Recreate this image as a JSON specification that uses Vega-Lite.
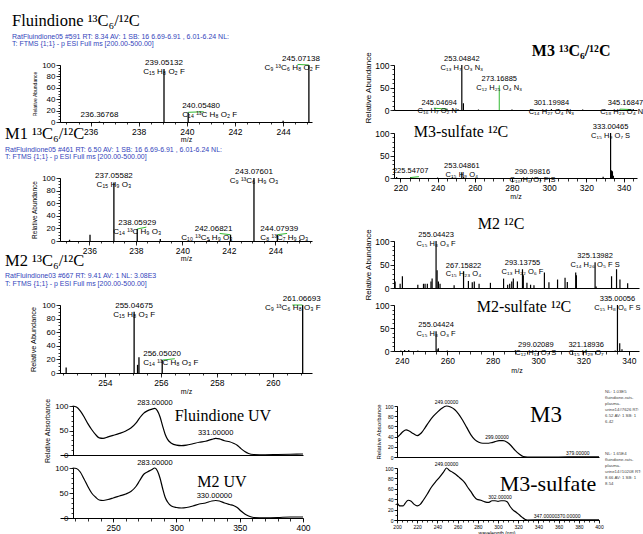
{
  "$schema": "https://vega.github.io/schema/vega-lite/v6.json",
  "padding": {"left": 5, "top": 13, "right": 0, "bottom": 0},
  "datasets": {
    "pA": [{"mz": 236.37, "pct": 1}, {"mz": 239.051, "pct": 93}, {"mz": 240.055, "pct": 17}, {"mz": 244.0, "pct": 2}, {"mz": 245.071, "pct": 100}],
    "lAc": [
      {"mz": 236.37, "pct": 1, "t": "236.36768"},
      {"mz": 239.051, "pct": 93, "t": "239.05132\nC₁₅ H₈ O₂ F"}
    ],
    "lAl": [{"mz": 240.055, "pct": 17, "t": "240.05480\nC₁₄ ¹³C H₈ O₂ F"}],
    "lAr": [{"mz": 245.071, "pct": 100, "t": "245.07138\nC₉ ¹³C₆ H₈ O₂ F"}],
    "gA": [{"mz": 240.06, "mz2": 240.7, "pct": 17, "pct2": 18}, {"mz": 244.6, "mz2": 245.07, "pct": 101, "pct2": 100}],
    "pB": [{"mz": 235.15, "pct": 2}, {"mz": 236.03, "pct": 10}, {"mz": 237.056, "pct": 93}, {"mz": 238.059, "pct": 19}, {"mz": 239.05, "pct": 3}, {"mz": 241.15, "pct": 2}, {"mz": 242.068, "pct": 10}, {"mz": 243.076, "pct": 100}, {"mz": 244.079, "pct": 10}, {"mz": 245.05, "pct": 2}],
    "lBc": [
      {"mz": 237.056, "pct": 93, "t": "237.05582\nC₁₅ H₉ O₃"},
      {"mz": 238.059, "pct": 19, "t": "238.05929\nC₁₄ ¹³C H₉ O₃"},
      {"mz": 243.076, "pct": 100, "t": "243.07601\nC₉ ¹³C₆ H₉ O₃"}
    ],
    "lBr": [{"mz": 242.068, "pct": 10, "t": "242.06821\nC₁₀ ¹³C₅ H₉ O₃"}],
    "lBl": [{"mz": 244.079, "pct": 10, "t": "244.07939\nC₈ ¹³C₇ H₉ O₃"}],
    "gB": [{"mz": 238.06, "mz2": 238.45, "pct": 19, "pct2": 22}, {"mz": 241.6, "mz2": 242.06, "pct": 12, "pct2": 10}, {"mz": 244.08, "mz2": 244.5, "pct": 10, "pct2": 12}],
    "pC": [{"mz": 252.62, "pct": 8}, {"mz": 255.047, "pct": 90}, {"mz": 255.17, "pct": 12}, {"mz": 255.22, "pct": 23}, {"mz": 256.05, "pct": 19}, {"mz": 261.067, "pct": 100}],
    "lCc": [{"mz": 255.047, "pct": 90, "t": "255.04675\nC₁₅ H₈ O₃ F"}],
    "lCl": [{"mz": 256.05, "pct": 19, "t": "256.05020\nC₁₄ ¹³C H₈ O₃ F"}],
    "lCr": [{"mz": 261.067, "pct": 100, "t": "261.06693\nC₉ ¹³C₆ H₈ O₃ F"}],
    "gC": [{"mz": 256.06, "mz2": 256.5, "pct": 19, "pct2": 21}, {"mz": 260.7, "mz2": 261.06, "pct": 100, "pct2": 100}],
    "pM3": [{"mz": 216.9, "pct": 2}, {"mz": 245.047, "pct": 3}, {"mz": 251.0, "pct": 1.5}, {"mz": 253.048, "pct": 100}, {"mz": 253.9, "pct": 15}, {"mz": 262, "pct": 1}, {"mz": 280, "pct": 1}, {"mz": 290, "pct": 1}, {"mz": 301.2, "pct": 2}, {"mz": 305, "pct": 1}, {"mz": 310, "pct": 1.5}, {"mz": 318, "pct": 1}, {"mz": 330, "pct": 1}, {"mz": 338, "pct": 1}, {"mz": 345.168, "pct": 2}],
    "lM3c": [
      {"mz": 253.048, "pct": 100, "t": "253.04842\nC₁₃ H₇ O₃ N₃"},
      {"mz": 273.169, "pct": 55, "t": "273.16885\nC₁₂ H₂₅ O₄ N₃"},
      {"mz": 301.2, "pct": 2, "t": "301.19984\nC₁₄ H₂₇ O₄ N₃"}
    ],
    "lM3r": [
      {"mz": 245.047, "pct": 3, "t": "245.04694\nC₁₆ H₇ O₂ N"},
      {"mz": 345.168, "pct": 2, "t": "345.16847\nC₁₈ H₂₃ O₄ N"}
    ],
    "gM3": [{"mz": 238, "mz2": 245, "pct": 4, "pct2": 2}, {"mz": 273.169, "mz2": 273.169, "pct": 0, "pct2": 55}, {"mz": 338, "mz2": 344, "pct": 2, "pct2": 1}],
    "pM3s": [{"mz": 218, "pct": 2}, {"mz": 225.547, "pct": 1.5}, {"mz": 240, "pct": 1}, {"mz": 248, "pct": 1}, {"mz": 253.049, "pct": 13}, {"mz": 254, "pct": 2}, {"mz": 291, "pct": 1}, {"mz": 300, "pct": 0.5}, {"mz": 329, "pct": 3}, {"mz": 333.005, "pct": 100}, {"mz": 333.5, "pct": 17}, {"mz": 334, "pct": 15}, {"mz": 334.5, "pct": 5}],
    "lM3s": [
      {"mz": 225.547, "pct": 1.5, "t": "225.54707"},
      {"mz": 253.049, "pct": 13, "t": "253.04861\nC₁₅ H₉ O₄"},
      {"mz": 290.998, "pct": 1, "t": "290.99816\nC₁₀ H₈ O₇ F S"},
      {"mz": 333.005, "pct": 100, "t": "333.00465\nC₁₅ H₉ O₇ S"}
    ],
    "gM3s": [{"mz": 225.5, "mz2": 230, "pct": 1, "pct2": 3}],
    "pM2": [{"mz": 237.0, "pct": 14}, {"mz": 239.2, "pct": 9}, {"mz": 240.2, "pct": 25}, {"mz": 247.0, "pct": 7}, {"mz": 249.5, "pct": 9}, {"mz": 250.2, "pct": 9}, {"mz": 251.2, "pct": 9}, {"mz": 252.8, "pct": 14}, {"mz": 253.3, "pct": 20}, {"mz": 255.044, "pct": 100}, {"mz": 255.5, "pct": 38}, {"mz": 256.07, "pct": 14}, {"mz": 256.8, "pct": 9}, {"mz": 263.0, "pct": 6}, {"mz": 267.158, "pct": 35}, {"mz": 269.3, "pct": 15}, {"mz": 271.0, "pct": 12}, {"mz": 271.9, "pct": 14}, {"mz": 274.0, "pct": 9}, {"mz": 279.0, "pct": 11}, {"mz": 284.8, "pct": 20}, {"mz": 286.6, "pct": 7}, {"mz": 287.5, "pct": 9}, {"mz": 288.4, "pct": 14}, {"mz": 289.1, "pct": 20}, {"mz": 290.9, "pct": 14}, {"mz": 293.138, "pct": 40}, {"mz": 293.5, "pct": 27}, {"mz": 295.1, "pct": 11}, {"mz": 296.7, "pct": 7}, {"mz": 298.2, "pct": 6}, {"mz": 302.8, "pct": 33}, {"mz": 304.8, "pct": 12}, {"mz": 308.6, "pct": 18}, {"mz": 311.9, "pct": 22}, {"mz": 312.9, "pct": 13}, {"mz": 316.6, "pct": 33}, {"mz": 316.9, "pct": 27}, {"mz": 325.14, "pct": 55}, {"mz": 325.6, "pct": 3}, {"mz": 332.4, "pct": 25}, {"mz": 334.6, "pct": 40}, {"mz": 336.1, "pct": 18}, {"mz": 339.5, "pct": 10}],
    "lM2": [
      {"mz": 255.044, "pct": 100, "t": "255.04423\nC₁₅ H₈ O₃ F"},
      {"mz": 267.158, "pct": 35, "t": "267.15822\nC₁₅ H₂₃ O₄"},
      {"mz": 293.138, "pct": 40, "t": "293.13755\nC₁₃ H₂₂ O₆ F"},
      {"mz": 325.14, "pct": 55, "t": "325.13982\nC₁₄ H₂₆ O₅ F S"}
    ],
    "pM2s": [{"mz": 239.5, "pct": 1}, {"mz": 241.2, "pct": 2}, {"mz": 243.0, "pct": 2}, {"mz": 247.0, "pct": 1}, {"mz": 255.044, "pct": 43}, {"mz": 255.5, "pct": 4}, {"mz": 256.05, "pct": 6}, {"mz": 260.0, "pct": 1}, {"mz": 290.0, "pct": 1.5}, {"mz": 299.02, "pct": 1}, {"mz": 321.19, "pct": 0.5}, {"mz": 334.0, "pct": 1}, {"mz": 335.001, "pct": 100}, {"mz": 336.0, "pct": 17}, {"mz": 337.0, "pct": 4}],
    "lM2s": [
      {"mz": 255.044, "pct": 43, "t": "255.04424\nC₁₅ H₈ O₃ F"},
      {"mz": 299.02, "pct": 1, "t": "299.02089\nC₁₂ H₁₁ O₇ S"},
      {"mz": 321.19, "pct": 0.5, "t": "321.18936\nC₁₅ H₂₉ O₇"},
      {"mz": 335.001, "pct": 100, "t": "335.00056\nC₁₅ H₈ O₆ F S"}
    ],
    "gM2s": [{"mz": 320.8, "mz2": 321.3, "pct": 1, "pct2": 3}],
    "uvF": [{"nm": 218, "abs": 100}, {"nm": 221, "abs": 98}, {"nm": 224, "abs": 90}, {"nm": 227, "abs": 78}, {"nm": 230, "abs": 64}, {"nm": 233, "abs": 52}, {"nm": 236, "abs": 42}, {"nm": 239, "abs": 35}, {"nm": 242, "abs": 34}, {"nm": 246, "abs": 37}, {"nm": 250, "abs": 40}, {"nm": 255, "abs": 44}, {"nm": 260, "abs": 49}, {"nm": 264, "abs": 55}, {"nm": 268, "abs": 65}, {"nm": 271, "abs": 76}, {"nm": 274, "abs": 85}, {"nm": 277, "abs": 90}, {"nm": 280, "abs": 93}, {"nm": 283, "abs": 95}, {"nm": 285, "abs": 90}, {"nm": 287, "abs": 78}, {"nm": 289, "abs": 60}, {"nm": 291, "abs": 43}, {"nm": 293, "abs": 32}, {"nm": 296, "abs": 24}, {"nm": 300, "abs": 20}, {"nm": 304, "abs": 19}, {"nm": 308, "abs": 20}, {"nm": 313, "abs": 23}, {"nm": 318, "abs": 26}, {"nm": 323, "abs": 28}, {"nm": 328, "abs": 32}, {"nm": 331, "abs": 34}, {"nm": 334, "abs": 33}, {"nm": 338, "abs": 29}, {"nm": 342, "abs": 27}, {"nm": 345, "abs": 24}, {"nm": 348, "abs": 20}, {"nm": 351, "abs": 13}, {"nm": 354, "abs": 7}, {"nm": 357, "abs": 3}, {"nm": 361, "abs": 1}, {"nm": 370, "abs": 0.5}, {"nm": 380, "abs": 1}, {"nm": 390, "abs": 1.5}, {"nm": 400, "abs": 2}],
    "uvM2": [{"nm": 218, "abs": 100}, {"nm": 221, "abs": 99}, {"nm": 224, "abs": 92}, {"nm": 227, "abs": 78}, {"nm": 230, "abs": 63}, {"nm": 233, "abs": 50}, {"nm": 236, "abs": 42}, {"nm": 239, "abs": 36}, {"nm": 242, "abs": 35}, {"nm": 246, "abs": 37}, {"nm": 250, "abs": 40}, {"nm": 255, "abs": 44}, {"nm": 260, "abs": 48}, {"nm": 264, "abs": 53}, {"nm": 268, "abs": 63}, {"nm": 271, "abs": 75}, {"nm": 274, "abs": 87}, {"nm": 277, "abs": 92}, {"nm": 280, "abs": 96}, {"nm": 283, "abs": 100}, {"nm": 285, "abs": 94}, {"nm": 287, "abs": 80}, {"nm": 289, "abs": 60}, {"nm": 291, "abs": 42}, {"nm": 293, "abs": 32}, {"nm": 296, "abs": 24}, {"nm": 300, "abs": 21}, {"nm": 304, "abs": 20}, {"nm": 308, "abs": 21}, {"nm": 313, "abs": 24}, {"nm": 318, "abs": 28}, {"nm": 323, "abs": 30}, {"nm": 328, "abs": 34}, {"nm": 331, "abs": 35}, {"nm": 334, "abs": 34}, {"nm": 338, "abs": 30}, {"nm": 342, "abs": 27}, {"nm": 345, "abs": 25}, {"nm": 348, "abs": 21}, {"nm": 351, "abs": 14}, {"nm": 354, "abs": 8}, {"nm": 357, "abs": 4}, {"nm": 361, "abs": 1}, {"nm": 370, "abs": 0.5}, {"nm": 380, "abs": 1}, {"nm": 390, "abs": 2}, {"nm": 400, "abs": 2}],
    "uvM3": [{"nm": 200, "abs": 38}, {"nm": 203, "abs": 44}, {"nm": 206, "abs": 50}, {"nm": 209, "abs": 53}, {"nm": 212, "abs": 51}, {"nm": 216, "abs": 46}, {"nm": 220, "abs": 42}, {"nm": 224, "abs": 47}, {"nm": 228, "abs": 58}, {"nm": 232, "abs": 70}, {"nm": 236, "abs": 80}, {"nm": 240, "abs": 88}, {"nm": 244, "abs": 95}, {"nm": 249, "abs": 100}, {"nm": 253, "abs": 98}, {"nm": 257, "abs": 93}, {"nm": 261, "abs": 84}, {"nm": 265, "abs": 72}, {"nm": 269, "abs": 58}, {"nm": 273, "abs": 44}, {"nm": 277, "abs": 34}, {"nm": 281, "abs": 29}, {"nm": 285, "abs": 27}, {"nm": 289, "abs": 27}, {"nm": 293, "abs": 28}, {"nm": 297, "abs": 30}, {"nm": 301, "abs": 32}, {"nm": 305, "abs": 32}, {"nm": 309, "abs": 29}, {"nm": 313, "abs": 22}, {"nm": 317, "abs": 13}, {"nm": 321, "abs": 6}, {"nm": 325, "abs": 1}, {"nm": 329, "abs": 0}, {"nm": 360, "abs": 0}, {"nm": 379, "abs": 0.5}, {"nm": 400, "abs": 0.5}],
    "uvM3s": [{"nm": 200, "abs": 33}, {"nm": 203, "abs": 27}, {"nm": 206, "abs": 27}, {"nm": 208, "abs": 32}, {"nm": 211, "abs": 38}, {"nm": 214, "abs": 36}, {"nm": 217, "abs": 30}, {"nm": 220, "abs": 27}, {"nm": 223, "abs": 30}, {"nm": 226, "abs": 38}, {"nm": 230, "abs": 50}, {"nm": 234, "abs": 63}, {"nm": 238, "abs": 73}, {"nm": 242, "abs": 82}, {"nm": 246, "abs": 92}, {"nm": 249, "abs": 100}, {"nm": 252, "abs": 95}, {"nm": 255, "abs": 92}, {"nm": 258, "abs": 88}, {"nm": 261, "abs": 83}, {"nm": 264, "abs": 78}, {"nm": 267, "abs": 72}, {"nm": 270, "abs": 63}, {"nm": 273, "abs": 55}, {"nm": 276, "abs": 46}, {"nm": 279, "abs": 40}, {"nm": 283, "abs": 38}, {"nm": 287, "abs": 35}, {"nm": 291, "abs": 34}, {"nm": 294, "abs": 37}, {"nm": 297, "abs": 37}, {"nm": 300, "abs": 36}, {"nm": 303, "abs": 37}, {"nm": 306, "abs": 37}, {"nm": 309, "abs": 35}, {"nm": 312, "abs": 26}, {"nm": 315, "abs": 19}, {"nm": 318, "abs": 15}, {"nm": 321, "abs": 10}, {"nm": 324, "abs": 5}, {"nm": 327, "abs": 1}, {"nm": 329, "abs": 0}, {"nm": 347, "abs": 0.5}, {"nm": 370, "abs": 0.5}, {"nm": 400, "abs": 0.5}],
    "luvF": [{"nm": 283, "abs": 95, "t": "283.00000"}, {"nm": 331, "abs": 34, "t": "331.00000"}],
    "luvM2": [{"nm": 283, "abs": 100, "t": "283.00000"}, {"nm": 330, "abs": 35, "t": "330.00000"}],
    "luvM3": [{"nm": 249, "abs": 100, "t": "249.00000"}, {"nm": 299, "abs": 32, "t": "299.00000"}, {"nm": 379, "abs": 0.5, "t": "379.00000"}],
    "luvM3s": [{"nm": 249, "abs": 100, "t": "249.00000"}, {"nm": 302, "abs": 37, "t": "302.00000"}, {"nm": 347, "abs": 0.5, "t": "347.00000"}, {"nm": 370, "abs": 0.5, "t": "370.00000"}]
  },
  "columns": 2,
  "align": "each",
  "bounds": "flush",
  "spacing": {"row": 0, "column": 82},
  "concat": [
    {
      "width": 252, "height": 57,
      "title": {"text": "Fluindione ¹³C₆/¹²C", "subtitle": ["\u00a0\u00a0\u00a0\u00a0\u00a0\u00a0\u00a0\u00a0RatFluindione05 #591  RT: 8.34  AV: 1  SB: 16  6.69-6.91 , 6.01-6.24  NL:", "\u00a0\u00a0\u00a0\u00a0\u00a0\u00a0\u00a0\u00a0T: FTMS {1;1}  - p ESI Full ms [200.00-500.00]"], "anchor": "start", "frame": "group", "dx": -48, "offset": 8, "subtitlePadding": 3, "font": "Liberation Serif", "fontSize": 16.5, "fontWeight": "normal", "color": "black", "subtitleFont": "Liberation Sans", "subtitleFontSize": 7, "subtitleColor": "#3344bb", "subtitleLineHeight": 7.5},
      "resolve": {"axis": {"x": "independent", "y": "independent"}},
      "layer": [
        {"data": {"name": "pA"}, "mark": {"type": "rule", "color": "black", "strokeWidth": 1.3},
         "encoding": {
           "x": {"field": "mz", "type": "quantitative", "scale": {"domain": [234.73, 245.2], "nice": false, "zero": false},
                 "axis": {"title": "m/z", "values": [236, 238, 240, 242, 244], "format": "d", "tickSize": 4, "labelFontSize": 8.5, "titlePadding": 0}},
           "y": {"field": "pct", "type": "quantitative", "scale": {"domain": [0, 100], "nice": false},
                 "axis": {"title": "Relative Abundance", "titleFontSize": 5, "values": [0, 20, 40, 60, 80, 100], "format": "d", "tickSize": 4, "titlePadding": 4}},
           "y2": {"datum": 0}}},
        {"data": {"name": "gA"}, "mark": {"type": "rule", "color": "#33bb33", "strokeWidth": 1},
         "encoding": {"x": {"field": "mz", "type": "quantitative", "axis": null}, "x2": {"field": "mz2"}, "y": {"field": "pct", "type": "quantitative", "axis": null}, "y2": {"field": "pct2"}}},
        {"data": {"name": "lAc"}, "mark": {"type": "text", "fontSize": 8, "lineHeight": 9, "lineBreak": "\n", "baseline": "bottom", "dy": -2},
         "encoding": {
           "x": {"field": "mz", "type": "quantitative", "axis": {"orient": "bottom", "title": null, "labels": false, "domain": false, "tickSize": 2, "values": [235, 235.5, 236, 236.5, 237, 237.5, 238, 238.5, 239, 239.5, 240, 240.5, 241, 241.5, 242, 242.5, 243, 243.5, 244, 244.5, 245]}},
           "y": {"field": "pct", "type": "quantitative", "axis": {"orient": "left", "title": null, "labels": false, "domain": false, "tickSize": 2, "values": [0, 5, 10, 15, 20, 25, 30, 35, 40, 45, 50, 55, 60, 65, 70, 75, 80, 85, 90, 95, 100]}},
           "text": {"field": "t"}}},
        {"data": {"name": "lAl"}, "mark": {"type": "text", "fontSize": 8, "lineHeight": 9, "lineBreak": "\n", "baseline": "bottom", "align": "left", "dx": -6, "dy": -2},
         "encoding": {"x": {"field": "mz", "type": "quantitative", "axis": null}, "y": {"field": "pct", "type": "quantitative", "axis": null}, "text": {"field": "t"}}},
        {"data": {"name": "lAr"}, "mark": {"type": "text", "fontSize": 8, "lineHeight": 9, "lineBreak": "\n", "baseline": "bottom", "align": "right", "dx": 11, "dy": -2},
         "encoding": {"x": {"field": "mz", "type": "quantitative", "axis": null}, "y": {"field": "pct", "type": "quantitative", "axis": null}, "text": {"field": "t"}}}
      ]
    },
    {
      "width": 243, "height": 45,
      "resolve": {"axis": {"x": "independent", "y": "independent"}},
      "layer": [
        {"data": {"name": "pM3"}, "mark": {"type": "rule", "color": "black", "strokeWidth": 1.2},
         "encoding": {
           "x": {"field": "mz", "type": "quantitative", "scale": {"domain": [216.6, 347.2], "nice": false, "zero": false}, "axis": {"title": null, "labels": false, "ticks": false}},
           "y": {"field": "pct", "type": "quantitative", "scale": {"domain": [0, 100], "nice": false},
                 "axis": {"title": "Relative Abundance", "titleFontSize": 8, "values": [0, 50, 100], "format": "d", "tickSize": 4, "labelFontSize": 8.5, "titlePadding": 2}},
           "y2": {"datum": 0}}},
        {"data": {"name": "gM3"}, "mark": {"type": "rule", "color": "#33bb33", "strokeWidth": 1},
         "encoding": {"x": {"field": "mz", "type": "quantitative", "axis": null}, "x2": {"field": "mz2"}, "y": {"field": "pct", "type": "quantitative", "axis": null}, "y2": {"field": "pct2"}}},
        {"data": {"name": "lM3c"}, "mark": {"type": "text", "fontSize": 7.5, "lineHeight": 8.5, "lineBreak": "\n", "baseline": "bottom", "dy": -2},
         "encoding": {
           "x": {"field": "mz", "type": "quantitative", "axis": null},
           "y": {"field": "pct", "type": "quantitative", "axis": {"orient": "left", "title": null, "labels": false, "domain": false, "tickSize": 2, "values": [0, 10, 20, 30, 40, 50, 60, 70, 80, 90, 100]}},
           "text": {"field": "t"}}},
        {"data": {"name": "lM3r"}, "mark": {"type": "text", "fontSize": 7.5, "lineHeight": 8.5, "lineBreak": "\n", "baseline": "bottom", "align": "right", "dx": 10, "dy": -2},
         "encoding": {"x": {"field": "mz", "type": "quantitative", "axis": null}, "y": {"field": "pct", "type": "quantitative", "axis": null}, "text": {"field": "t"}}},
        {"data": {"values": [{}]}, "mark": {"type": "text", "font": "Liberation Serif", "fontSize": 16, "fontWeight": "bold"},
         "encoding": {"x": {"datum": 311.8, "axis": null}, "y": {"datum": 131, "axis": null}, "text": {"value": "M3 ¹³C₆/¹²C"}}}
      ]
    },
    {"width": 10, "height": 11, "data": {"values": []}, "mark": "point"},
    {"width": 10, "height": 11, "data": {"values": []}, "mark": "point"},
    {"width": 10, "height": 45, "data": {"values": []}, "mark": "point"},
    {
      "width": 243, "height": 45,
      "resolve": {"axis": {"x": "independent", "y": "independent"}},
      "layer": [
        {"data": {"name": "pM3s"}, "mark": {"type": "rule", "color": "black", "strokeWidth": 1.2},
         "encoding": {
           "x": {"field": "mz", "type": "quantitative", "scale": {"domain": [216.6, 347.2], "nice": false, "zero": false},
                 "axis": {"title": "m/z", "values": [220, 240, 260, 280, 300, 320, 340], "format": "d", "tickSize": 4, "labelFontSize": 8.5, "titlePadding": 1}},
           "y": {"field": "pct", "type": "quantitative", "scale": {"domain": [0, 100], "nice": false},
                 "axis": {"title": null, "values": [0, 50, 100], "format": "d", "tickSize": 4, "labelFontSize": 8.5}},
           "y2": {"datum": 0}}},
        {"data": {"name": "gM3s"}, "mark": {"type": "rule", "color": "#33bb33", "strokeWidth": 1},
         "encoding": {"x": {"field": "mz", "type": "quantitative", "axis": null}, "x2": {"field": "mz2"}, "y": {"field": "pct", "type": "quantitative", "axis": null}, "y2": {"field": "pct2"}}},
        {"data": {"name": "lM3s"}, "mark": {"type": "text", "fontSize": 7.5, "lineHeight": 8.5, "lineBreak": "\n", "baseline": "bottom", "dy": -2},
         "encoding": {
           "x": {"field": "mz", "type": "quantitative", "axis": {"orient": "bottom", "title": null, "labels": false, "domain": false, "tickSize": 3, "values": [220, 225, 230, 235, 240, 245, 250, 255, 260, 265, 270, 275, 280, 285, 290, 295, 300, 305, 310, 315, 320, 325, 330, 335, 340, 345]}},
           "y": {"field": "pct", "type": "quantitative", "axis": {"orient": "left", "title": null, "labels": false, "domain": false, "tickSize": 2, "values": [0, 10, 20, 30, 40, 50, 60, 70, 80, 90, 100]}},
           "text": {"field": "t"}}},
        {"data": {"values": [{}]}, "mark": {"type": "text", "font": "Liberation Serif", "fontSize": 16},
         "encoding": {"x": {"datum": 252.6, "axis": null}, "y": {"datum": 102, "axis": null}, "text": {"value": "M3-sulfate ¹²C"}}}
      ]
    },
    {
      "width": 252, "height": 63,
      "title": {"text": "M1 ¹³C₆/¹²C", "subtitle": ["\u00a0\u00a0\u00a0\u00a0\u00a0\u00a0\u00a0\u00a0\u00a0\u00a0\u00a0RatFluindione05 #461  RT: 6.50  AV: 1  SB: 16  6.69-6.91 , 6.01-6.24  NL:", "\u00a0\u00a0\u00a0\u00a0\u00a0\u00a0\u00a0\u00a0\u00a0\u00a0\u00a0T: FTMS {1;1}  - p ESI Full ms [200.00-500.00]"], "anchor": "start", "frame": "group", "dx": -55, "offset": 8, "subtitlePadding": 3, "font": "Liberation Serif", "fontSize": 16.5, "fontWeight": "normal", "color": "black", "subtitleFont": "Liberation Sans", "subtitleFontSize": 7, "subtitleColor": "#3344bb", "subtitleLineHeight": 7.5},
      "resolve": {"axis": {"x": "independent", "y": "independent"}},
      "layer": [
        {"data": {"name": "pB"}, "mark": {"type": "rule", "color": "black", "strokeWidth": 1.3},
         "encoding": {
           "x": {"field": "mz", "type": "quantitative", "scale": {"domain": [234.74, 245.57], "nice": false, "zero": false},
                 "axis": {"title": "m/z", "values": [236, 238, 240, 242, 244], "format": "d", "tickSize": 4, "labelFontSize": 8.5, "titlePadding": 0}},
           "y": {"field": "pct", "type": "quantitative", "scale": {"domain": [0, 100], "nice": false},
                 "axis": {"title": "Relative Abundance", "titleFontSize": 6.5, "values": [0, 20, 40, 60, 80, 100], "format": "d", "tickSize": 4, "titlePadding": 4}},
           "y2": {"datum": 0}}},
        {"data": {"name": "gB"}, "mark": {"type": "rule", "color": "#33bb33", "strokeWidth": 1},
         "encoding": {"x": {"field": "mz", "type": "quantitative", "axis": null}, "x2": {"field": "mz2"}, "y": {"field": "pct", "type": "quantitative", "axis": null}, "y2": {"field": "pct2"}}},
        {"data": {"name": "lBc"}, "mark": {"type": "text", "fontSize": 8, "lineHeight": 9, "lineBreak": "\n", "baseline": "bottom", "dy": -2},
         "encoding": {
           "x": {"field": "mz", "type": "quantitative", "axis": {"orient": "bottom", "title": null, "labels": false, "domain": false, "tickSize": 2, "values": [235, 235.5, 236, 236.5, 237, 237.5, 238, 238.5, 239, 239.5, 240, 240.5, 241, 241.5, 242, 242.5, 243, 243.5, 244, 244.5, 245, 245.5]}},
           "y": {"field": "pct", "type": "quantitative", "axis": {"orient": "left", "title": null, "labels": false, "domain": false, "tickSize": 2, "values": [0, 5, 10, 15, 20, 25, 30, 35, 40, 45, 50, 55, 60, 65, 70, 75, 80, 85, 90, 95, 100]}},
           "text": {"field": "t"}}},
        {"data": {"name": "lBr"}, "mark": {"type": "text", "fontSize": 8, "lineHeight": 9, "lineBreak": "\n", "baseline": "bottom", "align": "right", "dx": 2, "dy": -2},
         "encoding": {"x": {"field": "mz", "type": "quantitative", "axis": null}, "y": {"field": "pct", "type": "quantitative", "axis": null}, "text": {"field": "t"}}},
        {"data": {"name": "lBl"}, "mark": {"type": "text", "fontSize": 8, "lineHeight": 9, "lineBreak": "\n", "baseline": "bottom", "align": "left", "dx": -17, "dy": -2},
         "encoding": {"x": {"field": "mz", "type": "quantitative", "axis": null}, "y": {"field": "pct", "type": "quantitative", "axis": null}, "text": {"field": "t"}}}
      ]
    },
    {"width": 10, "height": 63, "data": {"values": []}, "mark": "point"},
    {"width": 10, "height": 47, "data": {"values": []}, "mark": "point"},
    {
      "width": 245, "height": 47,
      "resolve": {"axis": {"x": "independent", "y": "independent"}},
      "layer": [
        {"data": {"name": "pM2"}, "mark": {"type": "rule", "color": "black", "strokeWidth": 1.2},
         "encoding": {
           "x": {"field": "mz", "type": "quantitative", "scale": {"domain": [236.5, 344.5], "nice": false, "zero": false}, "axis": {"title": null, "labels": false, "ticks": false}},
           "y": {"field": "pct", "type": "quantitative", "scale": {"domain": [0, 100], "nice": false},
                 "axis": {"title": "Relative Abundance", "titleFontSize": 8, "values": [0, 50, 100], "format": "d", "tickSize": 4, "labelFontSize": 8.5, "titlePadding": 2}},
           "y2": {"datum": 0}}},
        {"data": {"name": "lM2"}, "mark": {"type": "text", "fontSize": 7.5, "lineHeight": 8.5, "lineBreak": "\n", "baseline": "bottom", "dy": -2},
         "encoding": {
           "x": {"field": "mz", "type": "quantitative", "axis": null},
           "y": {"field": "pct", "type": "quantitative", "axis": {"orient": "left", "title": null, "labels": false, "domain": false, "tickSize": 2, "values": [0, 10, 20, 30, 40, 50, 60, 70, 80, 90, 100]}},
           "text": {"field": "t"}}},
        {"data": {"values": [{}]}, "mark": {"type": "text", "font": "Liberation Serif", "fontSize": 16},
         "encoding": {"x": {"datum": 283.7, "axis": null}, "y": {"datum": 136, "axis": null}, "text": {"value": "M2 ¹²C"}}}
      ]
    },
    {"width": 10, "height": 17, "data": {"values": []}, "mark": "point"},
    {"width": 10, "height": 17, "data": {"values": []}, "mark": "point"},
    {
      "width": 252, "height": 68,
      "title": {"text": "M2 ¹³C₆/¹²C", "subtitle": ["\u00a0\u00a0\u00a0\u00a0\u00a0\u00a0\u00a0\u00a0\u00a0\u00a0\u00a0RatFluindione03 #667  RT: 9.41  AV: 1  NL: 3.08E3", "\u00a0\u00a0\u00a0\u00a0\u00a0\u00a0\u00a0\u00a0\u00a0\u00a0\u00a0T: FTMS {1;1}  - p ESI Full ms [200.00-500.00]"], "anchor": "start", "frame": "group", "dx": -55, "offset": 8, "subtitlePadding": 3, "font": "Liberation Serif", "fontSize": 16.5, "fontWeight": "normal", "color": "black", "subtitleFont": "Liberation Sans", "subtitleFontSize": 7, "subtitleColor": "#3344bb", "subtitleLineHeight": 8},
      "resolve": {"axis": {"x": "independent", "y": "independent"}},
      "layer": [
        {"data": {"name": "pC"}, "mark": {"type": "rule", "color": "black", "strokeWidth": 1.3},
         "encoding": {
           "x": {"field": "mz", "type": "quantitative", "scale": {"domain": [252.4, 261.4], "nice": false, "zero": false},
                 "axis": {"title": "m/z", "values": [254, 256, 258, 260], "format": "d", "tickSize": 4, "labelFontSize": 8.5, "titlePadding": 1}},
           "y": {"field": "pct", "type": "quantitative", "scale": {"domain": [0, 100], "nice": false},
                 "axis": {"title": "Relative Abundance", "titleFontSize": 7.3, "values": [0, 20, 40, 60, 80, 100], "format": "d", "tickSize": 4, "titlePadding": 4}},
           "y2": {"datum": 0}}},
        {"data": {"name": "gC"}, "mark": {"type": "rule", "color": "#33bb33", "strokeWidth": 1},
         "encoding": {"x": {"field": "mz", "type": "quantitative", "axis": null}, "x2": {"field": "mz2"}, "y": {"field": "pct", "type": "quantitative", "axis": null}, "y2": {"field": "pct2"}}},
        {"data": {"name": "lCc"}, "mark": {"type": "text", "fontSize": 8, "lineHeight": 9, "lineBreak": "\n", "baseline": "bottom", "dy": -2},
         "encoding": {
           "x": {"field": "mz", "type": "quantitative", "axis": {"orient": "bottom", "title": null, "labels": false, "domain": false, "tickSize": 2, "values": [252.5, 253, 253.5, 254, 254.5, 255, 255.5, 256, 256.5, 257, 257.5, 258, 258.5, 259, 259.5, 260, 260.5, 261]}},
           "y": {"field": "pct", "type": "quantitative", "axis": {"orient": "left", "title": null, "labels": false, "domain": false, "tickSize": 2, "values": [0, 5, 10, 15, 20, 25, 30, 35, 40, 45, 50, 55, 60, 65, 70, 75, 80, 85, 90, 95, 100]}},
           "text": {"field": "t"}}},
        {"data": {"name": "lCl"}, "mark": {"type": "text", "fontSize": 8, "lineHeight": 9, "lineBreak": "\n", "baseline": "bottom", "align": "left", "dx": -19, "dy": -2},
         "encoding": {"x": {"field": "mz", "type": "quantitative", "axis": null}, "y": {"field": "pct", "type": "quantitative", "axis": null}, "text": {"field": "t"}}},
        {"data": {"name": "lCr"}, "mark": {"type": "text", "fontSize": 8, "lineHeight": 9, "lineBreak": "\n", "baseline": "bottom", "align": "right", "dx": 18, "dy": -2},
         "encoding": {"x": {"field": "mz", "type": "quantitative", "axis": null}, "y": {"field": "pct", "type": "quantitative", "axis": null}, "text": {"field": "t"}}}
      ]
    },
    {
      "width": 245, "height": 46,
      "resolve": {"axis": {"x": "independent", "y": "independent"}},
      "layer": [
        {"data": {"name": "pM2s"}, "mark": {"type": "rule", "color": "black", "strokeWidth": 1.2},
         "encoding": {
           "x": {"field": "mz", "type": "quantitative", "scale": {"domain": [236.5, 344.5], "nice": false, "zero": false},
                 "axis": {"title": "m/z", "values": [240, 260, 280, 300, 320, 340], "format": "d", "tickSize": 4, "labelFontSize": 8.5, "titlePadding": 2}},
           "y": {"field": "pct", "type": "quantitative", "scale": {"domain": [0, 100], "nice": false},
                 "axis": {"title": null, "values": [0, 50, 100], "format": "d", "tickSize": 4, "labelFontSize": 8.5}},
           "y2": {"datum": 0}}},
        {"data": {"name": "gM2s"}, "mark": {"type": "rule", "color": "#33bb33", "strokeWidth": 1},
         "encoding": {"x": {"field": "mz", "type": "quantitative", "axis": null}, "x2": {"field": "mz2"}, "y": {"field": "pct", "type": "quantitative", "axis": null}, "y2": {"field": "pct2"}}},
        {"data": {"name": "lM2s"}, "mark": {"type": "text", "fontSize": 7.5, "lineHeight": 8.5, "lineBreak": "\n", "baseline": "bottom", "dy": -2},
         "encoding": {
           "x": {"field": "mz", "type": "quantitative", "axis": {"orient": "bottom", "title": null, "labels": false, "domain": false, "tickSize": 3, "values": [240, 245, 250, 255, 260, 265, 270, 275, 280, 285, 290, 295, 300, 305, 310, 315, 320, 325, 330, 335, 340]}},
           "y": {"field": "pct", "type": "quantitative", "axis": {"orient": "left", "title": null, "labels": false, "domain": false, "tickSize": 2, "values": [0, 10, 20, 30, 40, 50, 60, 70, 80, 90, 100]}},
           "text": {"field": "t"}}},
        {"data": {"values": [{}]}, "mark": {"type": "text", "font": "Liberation Serif", "fontSize": 16},
         "encoding": {"x": {"datum": 293.8, "axis": null}, "y": {"datum": 96, "axis": null}, "text": {"value": "M2-sulfate ¹²C"}}}
      ]
    },
    {"width": 10, "height": 33, "data": {"values": []}, "mark": "point"},
    {"width": 10, "height": 33, "data": {"values": []}, "mark": "point"},
    {
      "width": 243, "height": 49,
      "resolve": {"axis": {"x": "independent", "y": "independent"}},
      "layer": [
        {"data": {"name": "uvF"}, "mark": {"type": "line", "color": "black", "strokeWidth": 1.2, "interpolate": "monotone"},
         "encoding": {
           "x": {"field": "nm", "type": "quantitative", "scale": {"domain": [208, 400], "nice": false, "zero": false}, "axis": {"title": null, "labels": false, "ticks": false}},
           "y": {"field": "abs", "type": "quantitative", "scale": {"domain": [0, 100], "nice": false},
                 "axis": {"title": "Relative Absorbance", "titleFontSize": 7, "values": [0, 50, 100], "format": "d", "tickSize": 4, "titlePadding": 4, "offset": -13}}}},
        {"data": {"name": "luvF"}, "mark": {"type": "text", "fontSize": 7.5, "baseline": "bottom", "dy": -1},
         "encoding": {
           "x": {"field": "nm", "type": "quantitative", "axis": null},
           "y": {"field": "abs", "type": "quantitative", "axis": {"orient": "left", "title": null, "labels": false, "domain": false, "tickSize": 2, "offset": -13, "values": [0, 10, 20, 30, 40, 50, 60, 70, 80, 90, 100]}},
           "text": {"field": "t"}}},
        {"data": {"values": [{}]}, "mark": {"type": "text", "font": "Liberation Serif", "fontSize": 16},
         "encoding": {"x": {"datum": 336.7, "axis": null}, "y": {"datum": 80, "axis": null}, "text": {"value": "Fluindione UV"}}}
      ]
    },
    {
      "width": 205, "height": 51,
      "resolve": {"axis": {"x": "independent", "y": "independent"}},
      "layer": [
        {"data": {"name": "uvM3"}, "mark": {"type": "line", "color": "black", "strokeWidth": 1.2, "interpolate": "monotone"},
         "encoding": {
           "x": {"field": "nm", "type": "quantitative", "scale": {"domain": [197, 400], "nice": false, "zero": false}, "axis": {"title": null, "labels": false, "ticks": false}},
           "y": {"field": "abs", "type": "quantitative", "scale": {"domain": [0, 100], "nice": false},
                 "axis": {"title": "Relative Absorbance", "titleFontSize": 6, "values": [0, 20, 40, 60, 80, 100], "format": "d", "tickSize": 3, "labelFontSize": 5, "titlePadding": 3, "offset": -3}}}},
        {"data": {"name": "luvM3"}, "mark": {"type": "text", "fontSize": 5, "baseline": "bottom", "dy": -1},
         "encoding": {
           "x": {"field": "nm", "type": "quantitative", "axis": null},
           "y": {"field": "abs", "type": "quantitative", "axis": {"orient": "left", "title": null, "labels": false, "domain": false, "tickSize": 2, "offset": -3, "values": [0, 10, 20, 30, 40, 50, 60, 70, 80, 90, 100]}},
           "text": {"field": "t"}}},
        {"data": {"values": [{}]}, "mark": {"type": "text", "font": "Liberation Serif", "fontSize": 23},
         "encoding": {"x": {"datum": 347.5, "axis": null}, "y": {"datum": 82, "axis": null}, "text": {"value": "M3"}}},
        {"data": {"values": [{}]}, "mark": {"type": "text", "fontSize": 4.3, "lineHeight": 6, "lineBreak": "\n", "align": "left", "baseline": "top", "color": "#444444"},
         "encoding": {"x": {"datum": 406, "axis": null}, "y": {"datum": 131, "axis": null}, "text": {"value": "NL: 1.03E5\nfluindione-rats-\nplasma-\nurine14#7626  RT:\n6.52  AV: 1  SB: 1\n6.42"}}}
      ]
    },
    {"width": 10, "height": 11, "data": {"values": []}, "mark": "point"},
    {"width": 10, "height": 11, "data": {"values": []}, "mark": "point"},
    {
      "width": 243, "height": 50,
      "resolve": {"axis": {"x": "independent", "y": "independent"}},
      "layer": [
        {"data": {"name": "uvM2"}, "mark": {"type": "line", "color": "black", "strokeWidth": 1.2, "interpolate": "monotone"},
         "encoding": {
           "x": {"field": "nm", "type": "quantitative", "scale": {"domain": [208, 400], "nice": false, "zero": false},
                 "axis": {"title": null, "values": [250, 300, 350, 400], "format": "d", "tickSize": 4, "labelFontSize": 8.5}},
           "y": {"field": "abs", "type": "quantitative", "scale": {"domain": [0, 100], "nice": false},
                 "axis": {"title": null, "values": [0, 50, 100], "format": "d", "tickSize": 4, "offset": -13}}}},
        {"data": {"name": "luvM2"}, "mark": {"type": "text", "fontSize": 7.5, "baseline": "bottom", "dy": -1},
         "encoding": {
           "x": {"field": "nm", "type": "quantitative", "axis": {"orient": "bottom", "title": null, "labels": false, "domain": false, "tickSize": 3, "values": [220, 230, 240, 250, 260, 270, 280, 290, 300, 310, 320, 330, 340, 350, 360, 370, 380, 390, 400]}},
           "y": {"field": "abs", "type": "quantitative", "axis": {"orient": "left", "title": null, "labels": false, "domain": false, "tickSize": 2, "offset": -13, "values": [0, 10, 20, 30, 40, 50, 60, 70, 80, 90, 100]}},
           "text": {"field": "t"}}},
        {"data": {"values": [{}]}, "mark": {"type": "text", "font": "Liberation Serif", "fontSize": 16},
         "encoding": {"x": {"datum": 335.9, "axis": null}, "y": {"datum": 72, "axis": null}, "text": {"value": "M2 UV"}}}
      ]
    },
    {
      "width": 205, "height": 52,
      "resolve": {"axis": {"x": "independent", "y": "independent"}},
      "layer": [
        {"data": {"name": "uvM3s"}, "mark": {"type": "line", "color": "black", "strokeWidth": 1.2, "interpolate": "monotone"},
         "encoding": {
           "x": {"field": "nm", "type": "quantitative", "scale": {"domain": [197, 400], "nice": false, "zero": false},
                 "axis": {"title": "wavelength (nm)", "titleFontSize": 5, "titlePadding": 1, "values": [200, 220, 240, 260, 280, 300, 320, 340, 360, 380, 400], "format": "d", "tickSize": 3, "labelFontSize": 5}},
           "y": {"field": "abs", "type": "quantitative", "scale": {"domain": [0, 100], "nice": false},
                 "axis": {"title": null, "values": [0, 20, 40, 60, 80, 100], "format": "d", "tickSize": 3, "labelFontSize": 5, "offset": -3}}}},
        {"data": {"name": "luvM3s"}, "mark": {"type": "text", "fontSize": 5, "baseline": "bottom", "dy": -1},
         "encoding": {
           "x": {"field": "nm", "type": "quantitative", "axis": {"orient": "bottom", "title": null, "labels": false, "domain": false, "tickSize": 2, "values": [200, 205, 210, 215, 220, 225, 230, 235, 240, 245, 250, 255, 260, 265, 270, 275, 280, 285, 290, 295, 300, 305, 310, 315, 320, 325, 330, 335, 340, 345, 350, 355, 360, 365, 370, 375, 380, 385, 390, 395, 400]}},
           "y": {"field": "abs", "type": "quantitative", "axis": {"orient": "left", "title": null, "labels": false, "domain": false, "tickSize": 2, "offset": -3, "values": [0, 10, 20, 30, 40, 50, 60, 70, 80, 90, 100]}},
           "text": {"field": "t"}}},
        {"data": {"values": [{}]}, "mark": {"type": "text", "font": "Liberation Serif", "fontSize": 22},
         "encoding": {"x": {"datum": 349.5, "axis": null}, "y": {"datum": 69, "axis": null}, "text": {"value": "M3-sulfate"}}},
        {"data": {"values": [{}]}, "mark": {"type": "text", "fontSize": 4.3, "lineHeight": 6, "lineBreak": "\n", "align": "left", "baseline": "top", "color": "#444444"},
         "encoding": {"x": {"datum": 406, "axis": null}, "y": {"datum": 131, "axis": null}, "text": {"value": "NL: 1.65E4\nfluindione-rats-\nplasma-\nurine14#10208  RT:\n8.66  AV: 1  SB: 1\n8.54"}}}
      ]
    }
  ],
  "config": {
    "font": "Liberation Sans",
    "view": {"stroke": null},
    "axis": {"grid": false, "domainColor": "black", "tickColor": "black", "labelColor": "black", "titleColor": "black", "titleFontWeight": "normal", "labelFontSize": 8, "titleFontSize": 7, "labelPadding": 1, "titlePadding": 2, "tickWidth": 0.8, "domainWidth": 1, "labelFlush": false, "labelOverlap": false}
  }
}
